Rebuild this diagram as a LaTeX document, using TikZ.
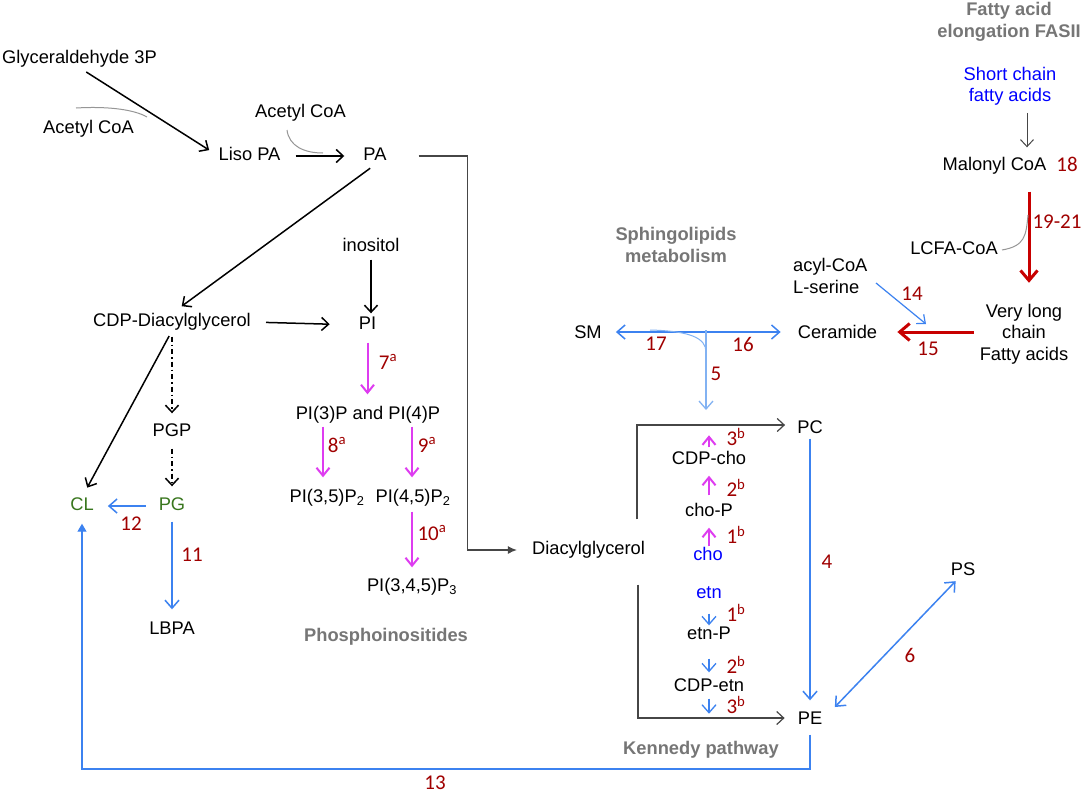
\documentclass[tikz,border=0pt]{standalone}
\usepackage{fontspec}
\setmainfont{Liberation Sans}
\newfontfamily\carlito{Carlito}
\usetikzlibrary{arrows.meta}
\definecolor{numred}{RGB}{160,0,0}
\definecolor{arrred}{RGB}{200,0,0}
\definecolor{bluearr}{RGB}{60,130,240}
\definecolor{lightblue}{RGB}{130,178,242}
\definecolor{mag}{RGB}{222,60,240}
\definecolor{hgray}{RGB}{118,118,118}
\definecolor{lgreen}{RGB}{56,118,29}
\definecolor{btext}{RGB}{0,0,255}
\definecolor{curvegray}{RGB}{150,150,150}
\definecolor{dgray}{RGB}{70,70,70}
\tikzset{
  lbl/.style={font=\fontsize{18.3}{21.5}\selectfont, inner sep=0pt, text height=13pt, text depth=4pt},
  mlbl/.style={font=\fontsize{18.3}{21.5}\selectfont, inner sep=0pt, align=center},
  hdr/.style={font=\bfseries\fontsize{18.3}{21.5}\selectfont, text=hgray, inner sep=0pt, align=center},
  num/.style={font=\carlito\fontsize{21}{24}\selectfont, text=numred, inner sep=0pt},
  blk/.style={draw=black, line width=1.5pt, -{Straight Barb[length=7pt,width=13pt]}},
  dashblk/.style={blk, dash pattern=on 5pt off 3pt on 1.5pt off 3pt},
  blu/.style={draw=bluearr, line width=1.5pt, -{Straight Barb[length=8pt,width=14pt]}},
  lblu/.style={draw=lightblue, line width=1.3pt, -{Straight Barb[length=8pt,width=14pt]}},
  magarr/.style={draw=mag, line width=2pt, -{Straight Barb[length=8pt,width=13pt]}},
  redarr/.style={draw=arrred, line width=3pt, -{Straight Barb[length=10pt,width=17pt]}},
  gcurve/.style={draw=curvegray, line width=1pt},
  thinarr/.style={draw=dgray, line width=1pt, -{Straight Barb[length=7pt,width=13pt]}},
}
\begin{document}
\begin{tikzpicture}[x=1pt,y=-1pt]
\useasboundingbox[fill=white] (0,0) rectangle (1084,793);

% ---------- nodes ----------
\node[lbl] (glyc) at (79.5,59) {Glyceraldehyde 3P};
\node[lbl] (acl) at (88.5,129) {Acetyl CoA};
\node[lbl] (liso) at (249.5,156) {Liso PA};
\node[lbl] (acm) at (300.5,113) {Acetyl CoA};
\node[lbl] (pa) at (375,156) {PA};
\node[lbl] (cdp) at (172,322) {CDP-Diacylglycerol};
\node[lbl] (ino) at (371,247) {inositol};
\node[lbl] (pi) at (367.5,325) {PI};
\node[lbl] (pi34) at (368,415) {PI(3)P and PI(4)P};
\node[lbl] (p35) at (327,498) {PI(3,5)P\textsubscript{2}};
\node[lbl] (p45) at (413,498) {PI(4,5)P\textsubscript{2}};
\node[lbl] (p345) at (412,587) {PI(3,4,5)P\textsubscript{3}};
\node[hdr] (phos) at (386,637) {Phosphoinositides};
\node[lbl] (pgp) at (172,432) {PGP};
\node[lbl, text=lgreen] (pg) at (172,506) {PG};
\node[lbl, text=lgreen] (cl) at (82,506) {CL};
\node[lbl] (lbpa) at (172,630) {LBPA};
\node[lbl] (dag) at (588.5,550) {Diacylglycerol};
\node[hdr] (sphhdr) at (676,245) {Sphingolipids\\metabolism};
\node[lbl] (sm) at (588,334) {SM};
\node[lbl] (cer) at (837.5,334) {Ceramide};
\node[mlbl, align=left, anchor=west] (acyl) at (793,276) {acyl-CoA\\L-serine};
\node[mlbl] (vlc) at (1024,334) {Very long\\chain\\Fatty acids};
\node[hdr] (fashdr) at (1009,22) {Fatty acid\\elongation FASII};
\node[mlbl, text=btext] (sc) at (1010,86.5) {Short chain\\fatty acids};
\node[lbl] (mal) at (994.5,166) {Malonyl CoA};
\node[lbl] (lcfa) at (954,250) {LCFA-CoA};
\node[lbl] (pc) at (810,429) {PC};
\node[lbl] (pe) at (810,720) {PE};
\node[lbl] (ps) at (963,571) {PS};
\node[lbl] (cdpcho) at (709,460) {CDP-cho};
\node[lbl] (chop) at (709,512) {cho-P};
\node[lbl, text=btext] (cho) at (708,556) {cho};
\node[lbl, text=btext] (etn) at (709,594) {etn};
\node[lbl] (etnp) at (709,635) {etn-P};
\node[lbl] (cdpetn) at (709,687) {CDP-etn};
\node[hdr] (kenhdr) at (701,750) {Kennedy pathway};

% ---------- numbers ----------
\node[num] (n7) at (388,362) {7\textsuperscript{a}};
\node[num] (n8) at (337,445) {8\textsuperscript{a}};
\node[num] (n9) at (427,445) {9\textsuperscript{a}};
\node[num] (n10) at (432,533) {10\textsuperscript{a}};
\node[num] (n11) at (192,555) {11};
\node[num] (n12) at (131,524) {12};
\node[num] (n13) at (435,783) {13};
\node[num] (n17) at (656,344) {17};
\node[num] (n16) at (743,344) {16};
\node[num] (n5) at (716,374) {5};
\node[num] (n14) at (912,294) {14};
\node[num] (n15) at (928,349) {15};
\node[num] (n18) at (1067,164) {18};
\node[num] (n1921) at (1057,222) {19-21};
\node[num] (n4) at (827,562) {4};
\node[num] (n6) at (910,655) {6};
\node[num] (k3c) at (736,437) {3\textsuperscript{b}};
\node[num] (k2c) at (736,488) {2\textsuperscript{b}};
\node[num] (k1c) at (736,535) {1\textsuperscript{b}};
\node[num] (k1e) at (736,613) {1\textsuperscript{b}};
\node[num] (k2e) at (736,665) {2\textsuperscript{b}};
\node[num] (k3e) at (736,705) {3\textsuperscript{b}};

% ---------- free-end coordinates ----------
\coordinate (c1s) at (76,108);
\coordinate (c1e) at (147,117);
\coordinate (c2s) at (287,130);
\coordinate (c2e) at (323,153);
\coordinate (c3s) at (1002,250);
\coordinate (c3e) at (1028,215);
\coordinate (tj) at (706,330);
\coordinate (c4s) at (650,330);
\coordinate (c4e) at (706,352);
\coordinate (a14s) at (876,283);
\coordinate (a14e) at (926,324);
\coordinate (bot) at (0,769);

% ---------- connectors: glycerolipid core ----------
\draw[blk, shorten <=8pt, shorten >=11pt] (glyc.south) -- (liso.west);
\draw[gcurve] (c1s) .. controls (110,106) and (135,110) .. (c1e);
\draw[blk, shorten <=15pt, shorten >=19pt] (liso.east) -- (pa.west);
\draw[gcurve] (c2s) .. controls (289,146) and (304,153) .. (c2e);
\draw[draw=dgray, line width=1.2pt, -{Latex[length=9pt,width=8pt]}, shorten >=15pt]
  ([xshift=32pt]pa.east) -- ++(49,0) |- (dag.west);
\draw[blk, shorten <=6pt, shorten >=12pt] (pa.south) -- (cdp.north);
\draw[blk, shorten <=15pt, shorten >=29pt] (cdp.east) -- (pi.west);
\draw[blk, shorten <=4pt, shorten >=3pt] (ino.south) -- (ino.south |- pi.north);

% phosphoinositides
\draw[magarr, shorten <=9pt, shorten >=12pt] (pi.south) -- (pi.south |- pi34.north);
\draw[magarr, shorten <=3pt, shorten >=12pt] ([xshift=-45pt]pi34.south) -- ([xshift=-4pt]p35.north);
\draw[magarr, shorten <=3pt, shorten >=12pt] ([xshift=44pt]pi34.south) -- ([xshift=-1pt]p45.north);
\draw[magarr, shorten <=5pt, shorten >=11pt] ([xshift=-1pt]p45.south) -- (p345.north);

% PG branch
\draw[blk, shorten <=6pt, shorten >=11pt] (cdp.south) -- (cl.north);
\draw[dashblk, shorten <=6pt, shorten >=10pt] (cdp.south) -- (pgp.north);
\draw[dashblk, shorten <=8pt, shorten >=11pt] (pgp.south) -- (pg.north);
\draw[blu, shorten <=13pt, shorten >=14pt] (pg.west) -- (cl.east);
\draw[blu, shorten <=7pt, shorten >=12pt] (pg.south) -- (lbpa.north);
\draw[draw=bluearr, line width=1.2pt, -{Triangle[length=8pt,width=9pt]}, shorten <=6pt, shorten >=9pt]
  (pe.south) -- (pe.south |- bot) -| (cl.south);

% ---------- sphingolipids ----------
\draw[blu, {Straight Barb[length=8pt,width=14pt]}-{Straight Barb[length=8pt,width=14pt]}, shorten <=14pt, shorten >=17pt]
  ([yshift=2pt]sm.east) -- ([yshift=2pt]cer.west);
\draw[lblu] (tj) -- ++(0,80);
\draw[draw=lightblue, line width=1pt] (c4s) .. controls (690,331) and (706,338) .. (c4e);
\draw[draw=bluearr, line width=1.2pt, -{Straight Barb[length=7pt,width=12pt]}] (a14s) -- (a14e);
\draw[redarr, shorten <=6pt, shorten >=20pt] ([yshift=2pt]vlc.west) -- ([yshift=2pt]cer.east);

% ---------- fatty acid elongation ----------
\draw[thinarr, shorten <=7pt, shorten >=10pt] ([xshift=17pt]sc.south) -- ([xshift=32.5pt]mal.north);
\draw[redarr, shorten <=17pt, shorten >=21pt] ([xshift=34.5pt]mal.south) -- ([xshift=5pt]vlc.north);
\draw[gcurve] (c3s) .. controls (1025,246) and (1026,236) .. (c3e);

% ---------- Kennedy pathway ----------
\draw[draw=dgray, line width=1.2pt, -{Straight Barb[length=7pt,width=13pt]}, shorten <=22pt, shorten >=12pt]
  ([xshift=48.5pt]dag.north) |- ([yshift=4pt]pc.west);
\draw[draw=dgray, line width=1.2pt, -{Straight Barb[length=7pt,width=13pt]}, shorten <=26pt, shorten >=13pt]
  ([xshift=49.5pt]dag.south) |- ([yshift=2pt]pe.west);
\draw[magarr, shorten <=1pt, shorten >=7pt] (cho.north -| chop) -- (chop.south);
\draw[magarr, shorten <=8pt, shorten >=7pt] (chop.north) -- (cdpcho.south);
\draw[magarr, shorten <=4pt] (cdpcho.north) -- ++(0,-16);
\draw[blu, line width=1.3pt, shorten <=11pt, shorten >=1pt] (etn.south) -- (etnp.north);
\draw[blu, line width=1.3pt, shorten <=15pt, shorten >=6pt] (etnp.south) -- (cdpetn.north);
\draw[blu, line width=1.3pt, shorten <=3pt] (cdpetn.south) -- ++(0,18);
\draw[blu, shorten <=1pt, shorten >=11pt] (pc.south) -- (pe.north);
\draw[blu, {Straight Barb[length=8pt,width=14pt]}-{Straight Barb[length=8pt,width=14pt]}, shorten <=18pt, shorten >=2pt]
  (pe.east) -- ([xshift=-6pt]ps.south);
\end{tikzpicture}
\end{document}
